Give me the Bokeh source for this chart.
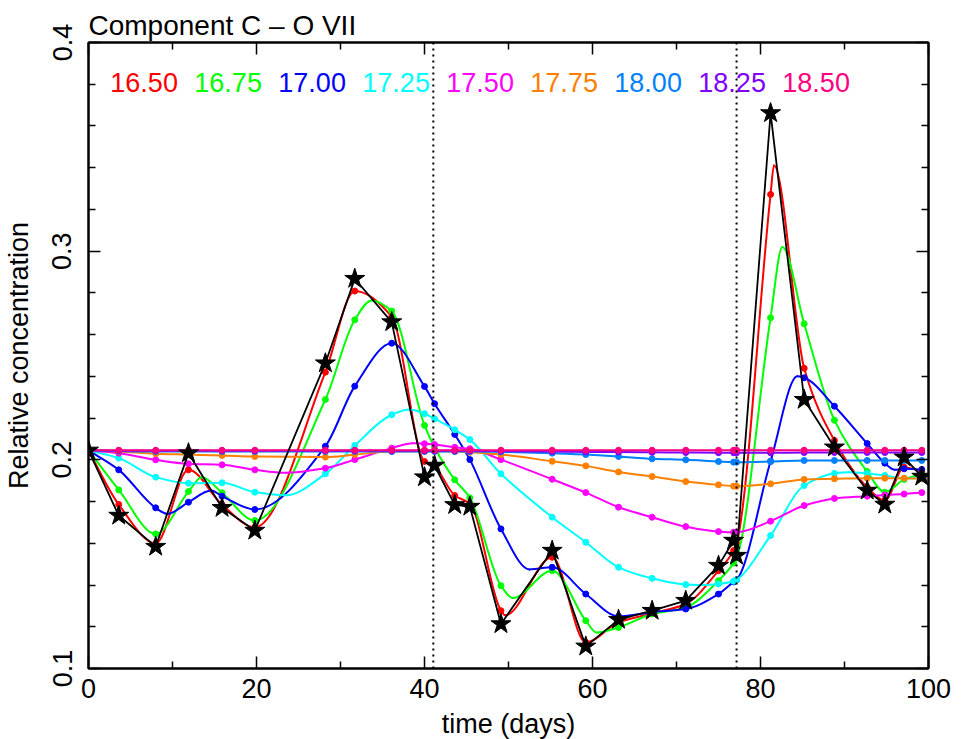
import numpy as np
from bokeh.plotting import figure
from bokeh.models import Range1d, LinearAxis, Span, FixedTicker, CustomJSTickFormatter
from bokeh.embed import file_html
from bokeh.resources import INLINE
from bokeh.core.properties import value

FONT = "Liberation Sans"

# ---------------- data ----------------
title_text = "Component C \u2013 O VII"
x_label = "time (days)"
y_label = "Relative concentration"

times = [0.0, 3.6, 8.0, 11.9, 15.9, 19.8, 28.2, 31.7, 36.1, 40.0, 41.2, 43.6, 45.4,
         49.1, 55.2, 59.2, 63.1, 67.1, 71.1, 75.0, 76.8, 77.15, 81.2, 85.2, 88.8,
         92.7, 94.8, 97.1, 99.2]

observed = [0.2045, 0.1733, 0.1584, 0.2032, 0.1770, 0.1661, 0.2463, 0.2868, 0.2660,
            0.1917, 0.1973, 0.1784, 0.1776, 0.1213, 0.1565, 0.1106, 0.1234, 0.1277,
            0.1325, 0.1493, 0.1613, 0.1541, 0.3662, 0.2288, 0.2060, 0.1853, 0.1786,
            0.2012, 0.1920]

series_labels = ["16.50", "16.75", "17.00", "17.25", "17.50", "17.75", "18.00", "18.25", "18.50"]
series_colors = ["#ff0000", "#00ff00", "#0000ff", "#00ffff", "#ff00ff",
                 "#ff8000", "#0080ff", "#8000ff", "#ff0080"]

s1650 = [0.2045, 0.1786, 0.1600, 0.1952, 0.1785, 0.1677, 0.2420, 0.2809, 0.2685, 0.1992,
         0.1968, 0.1829, 0.1790, 0.1277, 0.1533, 0.1125, 0.1221, 0.1264, 0.1309, 0.1469,
         0.1565, 0.1600, 0.3272, 0.2439, 0.2093, 0.1869, 0.1805, 0.1965, 0.1945]
s1675 = [0.2045, 0.1856, 0.1645, 0.1848, 0.1842, 0.1709, 0.2289, 0.2671, 0.2713, 0.2165,
         0.2060, 0.1904, 0.1818, 0.1397, 0.1469, 0.1229, 0.1197, 0.1261, 0.1293, 0.1421,
         0.1505, 0.1530, 0.2681, 0.2652, 0.2190, 0.1944, 0.1845, 0.1906, 0.1932]
s1700 = [0.2045, 0.1952, 0.1770, 0.1797, 0.1826, 0.1762, 0.2065, 0.2353, 0.2559, 0.2352,
         0.2269, 0.2122, 0.2001, 0.1669, 0.1485, 0.1357, 0.1250, 0.1270, 0.1285, 0.1357,
         0.1415, 0.1425, 0.1993, 0.2393, 0.2257, 0.2078, 0.1984, 0.1957, 0.1954]
s1725 = [0.2045, 0.2008, 0.1917, 0.1888, 0.1890, 0.1845, 0.1933, 0.2069, 0.2216, 0.2221,
         0.2197, 0.2144, 0.2097, 0.1933, 0.1725, 0.1605, 0.1485, 0.1432, 0.1402, 0.1405,
         0.1418, 0.1425, 0.1637, 0.1877, 0.1935, 0.1935, 0.1925, 0.1912, 0.1912]
s1750 = [0.2045, 0.2032, 0.2000, 0.1981, 0.1976, 0.1952, 0.1960, 0.2001, 0.2056, 0.2077,
         0.2073, 0.2060, 0.2053, 0.2001, 0.1907, 0.1843, 0.1773, 0.1725, 0.1680, 0.1656,
         0.1653, 0.1653, 0.1706, 0.1781, 0.1815, 0.1826, 0.1832, 0.1836, 0.1843]
s1775 = [0.2045, 0.2040, 0.2029, 0.2025, 0.2021, 0.2016, 0.2013, 0.2025, 0.2040, 0.2041,
         0.2041, 0.2040, 0.2036, 0.2025, 0.1993, 0.1971, 0.1942, 0.1920, 0.1896, 0.1880,
         0.1874, 0.1873, 0.1885, 0.1906, 0.1909, 0.1912, 0.1912, 0.1912, 0.1910]
s1800 = [0.2045, 0.2042, 0.2040, 0.2040, 0.2040, 0.2040, 0.2040, 0.2040, 0.2040, 0.2040,
         0.2040, 0.2040, 0.2040, 0.2038, 0.2032, 0.2025, 0.2016, 0.2005, 0.2000, 0.1992,
         0.1989, 0.1989, 0.1992, 0.1997, 0.1997, 0.1997, 0.1997, 0.1997, 0.1997]
s1825 = [0.2045, 0.2044, 0.2043, 0.2043, 0.2043, 0.2043, 0.2043, 0.2043, 0.2043, 0.2043,
         0.2043, 0.2043, 0.2043, 0.2042, 0.2040, 0.2038, 0.2037, 0.2036, 0.2035, 0.2034,
         0.2034, 0.2034, 0.2034, 0.2035, 0.2035, 0.2035, 0.2035, 0.2035, 0.2035]
s1850 = [0.2046] * len(times)

turns_1650_t = [49.6, 81.6]
turns_1650_v = [0.1255, 0.3410]
turns_1675_t = [13.5, 33.7, 50.5, 60.5, 82.6]
turns_1675_v = [0.1917, 0.2764, 0.1338, 0.1172, 0.3020]
turns_1700_t = [9.4, 14.6, 52.5, 84.4, 96.0]
turns_1700_v = [0.1741, 0.1853, 0.1475, 0.2400, 0.1952]
turns_1725_t = [23.5, 38.2, 73.0, 90.5]
turns_1725_v = [0.1830, 0.2241, 0.1400, 0.1940]
turns_1750_t = [23.5, 38.6]
turns_1750_v = [0.1938, 0.2080]

series_values = [s1650, s1675, s1700, s1725, s1750, s1775, s1800, s1825, s1850]
series_turns = [(turns_1650_t, turns_1650_v), (turns_1675_t, turns_1675_v),
                (turns_1700_t, turns_1700_v), (turns_1725_t, turns_1725_v),
                (turns_1750_t, turns_1750_v), ([], []), ([], []), ([], []), ([], [])]

event_days = [41.05, 77.15]

x_ticks = [0, 20, 40, 60, 80, 100]
x_minor = [10, 30, 50, 70, 90]
y_ticks = [0.1, 0.2, 0.3, 0.4]
y_minor = [0.12, 0.14, 0.16, 0.18, 0.22, 0.24, 0.26, 0.28, 0.32, 0.34, 0.36, 0.38]


def pchip_slopes(x, y):
    x = np.asarray(x, float)
    y = np.asarray(y, float)
    h = np.diff(x)
    d = np.diff(y) / h
    m = np.zeros(len(x))
    m[0] = d[0]
    m[-1] = d[-1]
    for i in range(1, len(x) - 1):
        if d[i - 1] * d[i] <= 0:
            m[i] = 0.0
        else:
            w1 = 2 * h[i] + h[i - 1]
            w2 = h[i] + 2 * h[i - 1]
            m[i] = (w1 + w2) / (w1 / d[i - 1] + w2 / d[i])
    return m


# ---------------- figure ----------------
p = figure(frame_width=840, frame_height=626, output_backend="svg", toolbar_location=None,
           x_range=Range1d(0, 100), y_range=Range1d(0.1, 0.4),
           min_border_left=87, min_border_right=30, min_border_top=42, min_border_bottom=68)
p.background_fill_color = "white"
p.border_fill_color = "white"
p.xgrid.visible = False
p.ygrid.visible = False
p.outline_line_color = "black"
p.outline_line_width = 2

p.title.text = title_text
p.title.text_font = FONT
p.title.text_font_size = "28px"
p.title.text_font_style = "normal"
p.title.text_color = "black"
p.title.align = "left"
p.title.standoff = 3
p.title.offset = 0


def style_axis(ax, show_labels):
    ax.axis_line_color = "black"
    ax.axis_line_width = 2
    ax.major_tick_in = 12
    ax.major_tick_out = 0
    ax.minor_tick_in = 7
    ax.minor_tick_out = 0
    ax.major_tick_line_width = 1.5
    ax.minor_tick_line_width = 1.5
    ax.major_tick_line_color = "black"
    ax.minor_tick_line_color = "black"
    ax.major_label_text_font = FONT
    ax.major_label_text_font_size = "27px"
    ax.major_label_text_color = "black"
    ax.axis_label_text_font = FONT
    ax.axis_label_text_font_size = "27px"
    ax.axis_label_text_font_style = "normal"
    ax.axis_label_text_color = "black"
    if not show_labels:
        ax.formatter = CustomJSTickFormatter(code="return ''")
        ax.major_label_text_font_size = "0px"
        ax.major_label_standoff = 0


xt = FixedTicker(ticks=x_ticks, minor_ticks=x_minor)
yt = FixedTicker(ticks=y_ticks, minor_ticks=y_minor)

p.xaxis.ticker = xt
p.yaxis.ticker = yt
style_axis(p.xaxis[0], True)
style_axis(p.yaxis[0], True)
p.xaxis.axis_label = x_label
p.yaxis.axis_label = y_label
p.xaxis.major_label_standoff = 10
p.xaxis.axis_label_standoff = 8
p.yaxis.major_label_orientation = "parallel"
p.yaxis.major_label_standoff = 17
p.yaxis.axis_label_standoff = 16

top_ax = LinearAxis(ticker=FixedTicker(ticks=x_ticks, minor_ticks=x_minor))
right_ax = LinearAxis(ticker=FixedTicker(ticks=y_ticks, minor_ticks=y_minor))
style_axis(top_ax, False)
style_axis(right_ax, False)
p.add_layout(top_ax, "above")
p.add_layout(right_ax, "right")

for d in event_days:
    p.add_layout(Span(location=d, dimension="height", line_color="black",
                      line_width=2, line_dash="2 4"))

# colored model curves
for vals, col, (tt, tv) in zip(series_values, series_colors, series_turns):
    kx = list(times) + list(tt)
    ky = list(vals) + list(tv)
    order = np.argsort(kx, kind="stable")
    kx = np.array(kx, float)[order]
    ky = np.array(ky, float)[order]
    m = pchip_slopes(kx, ky)
    h = np.diff(kx)
    p.bezier(x0=kx[:-1], y0=ky[:-1], x1=kx[1:], y1=ky[1:],
             cx0=kx[:-1] + h / 3, cy0=ky[:-1] + m[:-1] * h / 3,
             cx1=kx[1:] - h / 3, cy1=ky[1:] - m[1:] * h / 3,
             line_color=col, line_width=2, line_cap="round")
    p.scatter(times, vals, marker="circle", size=6, fill_color=col, line_color=col)

# observed values
p.line(times, observed, line_color="black", line_width=1.8)
p.scatter(times, observed, marker="star", size=21, fill_color="black", line_color="black")

# legend of series labels
lab_x = [2.6 + 10 * i for i in range(len(series_labels))]
p.text(x=lab_x, y=[0.3808] * len(series_labels), text=series_labels,
       text_color=series_colors, text_font=value(FONT), text_font_size="27px",
       text_baseline="middle", text_align="left")

open("out.html", "w").write(file_html(p, INLINE))
